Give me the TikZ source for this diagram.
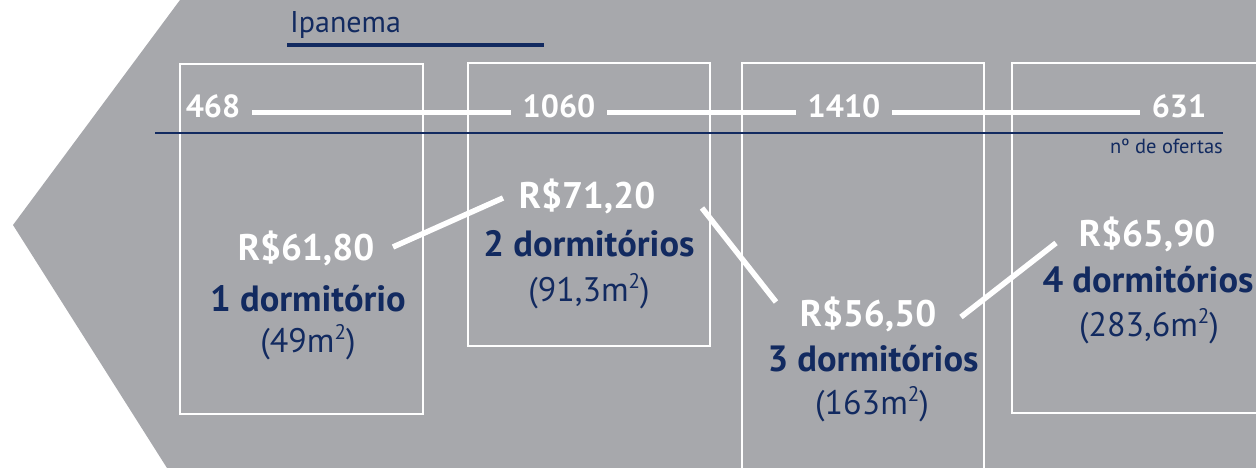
\documentclass[tikz,border=0pt]{standalone}
\usepackage{fontspec}
\usepackage{graphicx}
\setmainfont{PT Sans}
\definecolor{bggray}{RGB}{167,168,172}
\definecolor{navy}{RGB}{18,42,96}
\newcommand\sqmeter{m\raisebox{0.40em}{\scalebox{0.62}{2}}}
\begin{document}
\begin{tikzpicture}[x=1bp,y=-1bp,
  box/.style={draw=white,line width=1.6bp},
  price/.style={text=white,font=\bfseries\fontsize{37bp}{40bp}\selectfont,inner sep=0pt,anchor=base},
  room/.style={text=navy,font=\bfseries\fontsize{36.5bp}{40bp}\selectfont,inner sep=0pt,anchor=base},
  area/.style={text=navy,font=\fontsize{34bp}{38bp}\selectfont,inner sep=0pt,anchor=base},
  count/.style={text=white,font=\bfseries\fontsize{32bp}{36bp}\selectfont,inner xsep=12bp,inner ysep=0pt,anchor=base},
  conn/.style={white,line width=5.5bp},
  cline/.style={white,line width=5bp},
  ]
\useasboundingbox (0,0) rectangle (1256,468);
\fill[bggray] (180,0) -- (1256,0) -- (1256,468) -- (167,468) -- (13,225) -- cycle;
% boxes
\draw[box] (180,64) rectangle (423,414);
\draw[box] (468,63) rectangle (710,346);
\draw[box] (742,472) -- (742,63) -- (984,63) -- (984,472);
\draw[box] (1260,63) -- (1012,63) -- (1012,413) -- (1260,413);
% title
\node[text=navy,font=\fontsize{30bp}{34bp}\selectfont,inner sep=0pt,anchor=base west] (title) at (290,33) {Ipanema};
\draw[navy,line width=4.5bp] (287,45) -- (544,45);
% axis line
\draw[navy,line width=2.5bp] (155,133) -- (1223,133);
\node[text=navy,font=\fontsize{20.5bp}{24bp}\selectfont,inner sep=0pt,anchor=base east] (axlabel) at (1223,154) {nº de ofertas};
% counts
\node[count] (n1) at (213,118) {468};
\node[count] (n2) at (559,118) {1060};
\node[count] (n3) at (844,118) {1410};
\node[count] (n4) at (1179,118) {631};
\draw[cline] (n1.east |- 0,113) -- (n2.west |- 0,113);
\draw[cline] (n2.east |- 0,113) -- (n3.west |- 0,113);
\draw[cline] (n3.east |- 0,113) -- (n4.west |- 0,113);
% groups
\node[price] (p1) at (306,261) {R\$61,80};
\node[room] (r1) at (308,312) {1 dormitório};
\node[area] (a1) at (308,353) {(49\sqmeter)};
\node[price] (p2) at (587,209) {R\$71,20};
\node[room] (r2) at (589,257) {2 dormitórios};
\node[area] (a2) at (589,302) {(91,3\sqmeter)};
\node[price] (p3) at (868,327) {R\$56,50};
\node[room] (r3) at (873,372) {3 dormitórios};
\node[area] (a3) at (872,415) {(163\sqmeter)};
\node[price] (p4) at (1147,247) {R\$65,90};
\node[room] (r4) at (1148,293) {4 dormitórios};
\node[area] (a4) at (1149,337) {(283,6\sqmeter)};
% connectors
\coordinate (c12a) at (393,247);
\coordinate (c12b) at (503,198);
\coordinate (c23a) at (702,208);
\coordinate (c23b) at (776,302);
\coordinate (c34a) at (961,317);
\coordinate (c34b) at (1056,243);
\draw[conn] (c12a) -- (c12b);
\draw[conn] (c23a) -- (c23b);
\draw[conn] (c34a) -- (c34b);
\end{tikzpicture}
\end{document}
